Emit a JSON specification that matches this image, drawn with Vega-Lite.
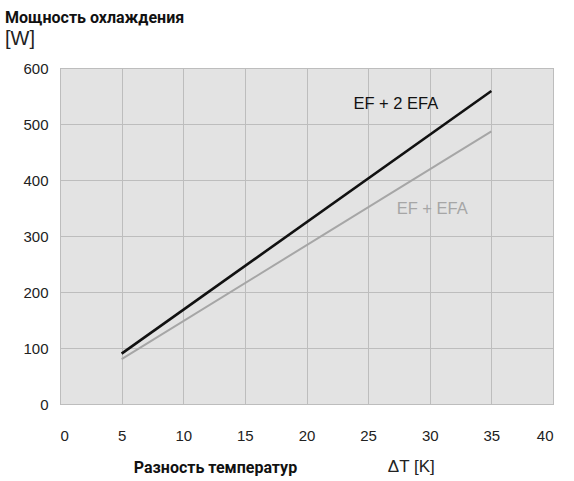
{
  "$schema": "https://vega.github.io/schema/vega-lite/v6.json",
  "width": 493,
  "height": 336,
  "autosize": "none",
  "padding": {"left": 60, "top": 68, "right": 21, "bottom": 77},
  "background": "white",
  "config": {
    "view": {"fill": "#e3e3e3", "stroke": "#a8a8a8", "strokeWidth": 1},
    "axis": {"gridColor": "#bdbdbd", "gridOpacity": 1, "gridWidth": 1, "domain": false, "ticks": false,
             "labelFont": "Liberation Sans", "labelFontSize": 15, "labelColor": "#222"}
  },
  "title": {
    "text": "Мощность охлаждения",
    "subtitle": "[W]",
    "anchor": "start",
    "frame": "group",
    "dx": -55,
    "offset": 12,
    "font": "Roboto",
    "fontSize": 16,
    "fontWeight": "bold",
    "color": "#111",
    "subtitleFont": "Liberation Sans",
    "subtitleFontSize": 20,
    "subtitleColor": "#222",
    "subtitlePadding": 3
  },
  "datasets": {
    "lines": [
      {"dt": 5, "p": 90, "s": "EF + 2 EFA"},
      {"dt": 35, "p": 559, "s": "EF + 2 EFA"},
      {"dt": 5, "p": 80, "s": "EF + EFA"},
      {"dt": 35, "p": 487, "s": "EF + EFA"}
    ],
    "labels": [
      {"dt": 27.25, "p": 535, "t": "EF + 2 EFA", "s": "EF + 2 EFA"},
      {"dt": 30.2, "p": 348, "t": "EF + EFA", "s": "EF + EFA"}
    ],
    "unit": [{"dt": 28.5, "p": -112, "t": "ΔT [K]"}]
  },
  "layer": [
    {
      "data": {"name": "lines"},
      "mark": {"type": "line"},
      "encoding": {
        "x": {"field": "dt", "type": "quantitative", "scale": {"domain": [0, 40], "nice": false},
              "axis": {"values": [0, 5, 10, 15, 20, 25, 30, 35, 40], "labelPadding": 24,
                       "title": "Разность температур", "titleFont": "Roboto",
                       "titleFontSize": 16, "titleFontWeight": "bold", "titleColor": "#111",
                       "titleX": 155, "titleY": 63, "titleBaseline": "middle", "titleAnchor": null}},
        "y": {"field": "p", "type": "quantitative", "scale": {"domain": [0, 600], "nice": false},
              "axis": {"values": [0, 100, 200, 300, 400, 500, 600], "labelPadding": 12, "title": null}},
        "color": {"field": "s", "type": "nominal", "scale": {"domain": ["EF + 2 EFA", "EF + EFA"], "range": ["#111111", "#a6a6a6"]}, "legend": null},
        "strokeWidth": {"field": "s", "type": "nominal", "scale": {"domain": ["EF + 2 EFA", "EF + EFA"], "range": [2.6, 2]}, "legend": null}
      }
    },
    {
      "data": {"name": "labels"},
      "mark": {"type": "text", "font": "Liberation Sans", "fontSize": 16.5},
      "encoding": {
        "x": {"field": "dt", "type": "quantitative"},
        "y": {"field": "p", "type": "quantitative"},
        "text": {"field": "t"},
        "color": {"field": "s", "type": "nominal", "scale": {"domain": ["EF + 2 EFA", "EF + EFA"], "range": ["#111111", "#9a9a9a"]}, "legend": null}
      }
    },
    {
      "data": {"name": "unit"},
      "mark": {"type": "text", "font": "Liberation Sans", "fontSize": 17, "color": "#222", "clip": false},
      "encoding": {
        "x": {"field": "dt", "type": "quantitative"},
        "y": {"field": "p", "type": "quantitative"},
        "text": {"field": "t"}
      }
    }
  ]
}
